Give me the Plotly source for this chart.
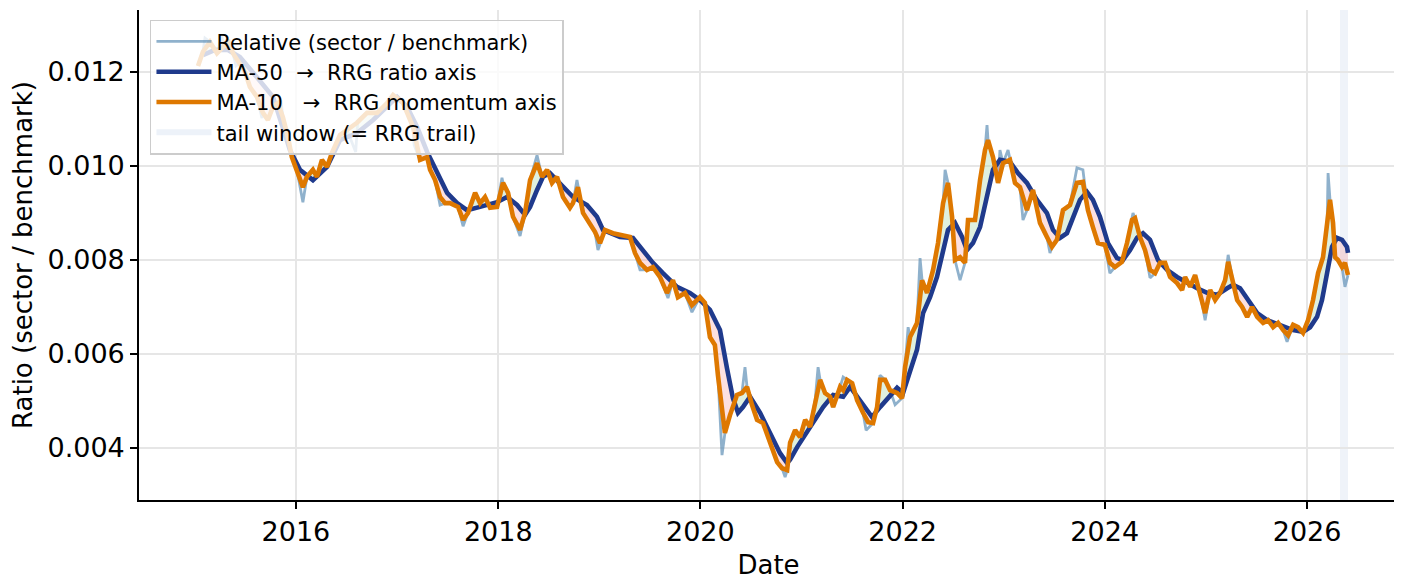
import numpy as np
import pandas as pd
import plotly.graph_objects as go

# ---------------- data ----------------
# Relative (sector / benchmark) : decimal year, value
rel_years = [2015.031, 2015.080, 2015.100, 2015.149, 2015.219, 2015.268, 2015.278, 2015.327, 2015.377, 2015.407,
             2015.446, 2015.496, 2015.545, 2015.614, 2015.664, 2015.674, 2015.723, 2015.773, 2015.822, 2015.852,
             2015.871, 2015.921, 2015.960, 2016.010, 2016.069, 2016.109, 2016.168, 2016.208, 2016.257, 2016.307,
             2016.356, 2016.435, 2016.504, 2016.590, 2016.610, 2016.702, 2016.801, 2016.900, 2016.959, 2017.058,
             2017.157, 2017.167, 2017.226, 2017.296, 2017.325, 2017.375, 2017.424, 2017.474, 2017.523, 2017.573,
             2017.602, 2017.652, 2017.701, 2017.771, 2017.820, 2017.869, 2017.919, 2017.988, 2018.037, 2018.047,
             2018.097, 2018.146, 2018.216, 2018.265, 2018.315, 2018.384, 2018.433, 2018.483, 2018.532, 2018.582,
             2018.641, 2018.710, 2018.740, 2018.779, 2018.839, 2018.908, 2018.957, 2018.987, 2019.056, 2019.135,
             2019.234, 2019.304, 2019.353, 2019.403, 2019.472, 2019.531, 2019.600, 2019.680, 2019.729, 2019.778,
             2019.848, 2019.917, 2019.996, 2020.045, 2020.095, 2020.144, 2020.174, 2020.214, 2020.243, 2020.293,
             2020.362, 2020.411, 2020.441, 2020.461, 2020.510, 2020.560, 2020.619, 2020.688, 2020.758, 2020.807,
             2020.837, 2020.857, 2020.886, 2020.936, 2020.985, 2021.035, 2021.084, 2021.134, 2021.163, 2021.183,
             2021.232, 2021.282, 2021.312, 2021.381, 2021.411, 2021.450, 2021.500, 2021.549, 2021.608, 2021.638,
             2021.707, 2021.747, 2021.776, 2021.826, 2021.875, 2021.925, 2021.994, 2022.024, 2022.054, 2022.073,
             2022.142, 2022.172, 2022.192, 2022.241, 2022.301, 2022.350, 2022.400, 2022.420, 2022.449, 2022.489,
             2022.518, 2022.568, 2022.617, 2022.647, 2022.716, 2022.766, 2022.815, 2022.835, 2022.845, 2022.894,
             2022.944, 2022.963, 2022.993, 2023.043, 2023.062, 2023.112, 2023.161, 2023.191, 2023.230, 2023.290,
             2023.359, 2023.428, 2023.458, 2023.478, 2023.527, 2023.587, 2023.656, 2023.725, 2023.784, 2023.834,
             2023.883, 2023.933, 2024.002, 2024.051, 2024.101, 2024.170, 2024.220, 2024.279, 2024.299, 2024.348,
             2024.398, 2024.447, 2024.497, 2024.546, 2024.596, 2024.645, 2024.714, 2024.764, 2024.793, 2024.843,
             2024.892, 2024.942, 2024.991, 2025.041, 2025.090, 2025.139, 2025.189, 2025.219, 2025.258, 2025.308,
             2025.357, 2025.407, 2025.456, 2025.506, 2025.565, 2025.614, 2025.664, 2025.713, 2025.763, 2025.802,
             2025.862, 2025.911, 2025.960, 2026.010, 2026.059, 2026.109, 2026.158, 2026.198, 2026.208, 2026.227,
             2026.257, 2026.277, 2026.306, 2026.346, 2026.375, 2026.405]
rel_vals = [0.01213, 0.01243, 0.01272, 0.01264, 0.01240, 0.01277, 0.01253, 0.01268, 0.01240, 0.01213,
            0.01219, 0.01200, 0.01168, 0.01147, 0.01102, 0.01113, 0.01098, 0.01126, 0.01134, 0.01140,
            0.01104, 0.01062, 0.01019, 0.00992, 0.00923, 0.00977, 0.00992, 0.00977, 0.01013, 0.00998,
            0.01028, 0.01066, 0.01077, 0.01030, 0.01092, 0.01113, 0.01113, 0.01134, 0.01151, 0.01134,
            0.01083, 0.01045, 0.01013, 0.01019, 0.00992, 0.00970, 0.00917, 0.00921, 0.00921, 0.00917,
            0.00913, 0.00872, 0.00900, 0.00943, 0.00921, 0.00934, 0.00911, 0.00913, 0.00975, 0.00964,
            0.00943, 0.00892, 0.00851, 0.00900, 0.00970, 0.01023, 0.00977, 0.00992, 0.00964, 0.00977,
            0.00934, 0.00911, 0.00921, 0.00970, 0.00900, 0.00875, 0.00860, 0.00821, 0.00864, 0.00857,
            0.00853, 0.00849, 0.00815, 0.00779, 0.00779, 0.00785, 0.00764, 0.00719, 0.00757, 0.00721,
            0.00730, 0.00689, 0.00721, 0.00709, 0.00636, 0.00619, 0.00555, 0.00385, 0.00432, 0.00470,
            0.00513, 0.00517, 0.00572, 0.00530, 0.00492, 0.00460, 0.00453, 0.00411, 0.00370, 0.00357,
            0.00338, 0.00353, 0.00411, 0.00438, 0.00423, 0.00460, 0.00445, 0.00502, 0.00572, 0.00545,
            0.00517, 0.00509, 0.00487, 0.00530, 0.00551, 0.00545, 0.00538, 0.00502, 0.00475, 0.00438,
            0.00453, 0.00487, 0.00555, 0.00545, 0.00523, 0.00492, 0.00506, 0.00572, 0.00657, 0.00636,
            0.00666, 0.00804, 0.00757, 0.00730, 0.00779, 0.00836, 0.00921, 0.00992, 0.00964, 0.00892,
            0.00800, 0.00757, 0.00794, 0.00885, 0.00885, 0.00970, 0.01034, 0.01087, 0.01055, 0.01019,
            0.00964, 0.01034, 0.01006, 0.01034, 0.01013, 0.00964, 0.00955, 0.00885, 0.00906, 0.00949,
            0.00879, 0.00849, 0.00815, 0.00828, 0.00843, 0.00906, 0.00917, 0.00996, 0.00992, 0.00906,
            0.00870, 0.00836, 0.00832, 0.00772, 0.00785, 0.00796, 0.00836, 0.00900, 0.00889, 0.00849,
            0.00821, 0.00762, 0.00772, 0.00794, 0.00794, 0.00764, 0.00751, 0.00736, 0.00764, 0.00743,
            0.00768, 0.00730, 0.00672, 0.00736, 0.00715, 0.00730, 0.00757, 0.00811, 0.00764, 0.00715,
            0.00700, 0.00679, 0.00700, 0.00679, 0.00666, 0.00672, 0.00657, 0.00666, 0.00651, 0.00626,
            0.00662, 0.00657, 0.00645, 0.00672, 0.00715, 0.00772, 0.00806, 0.00870, 0.00985, 0.00928,
            0.00879, 0.00806, 0.00800, 0.00785, 0.00743, 0.00768]

# MA-10 (RRG momentum axis)
ma10_years = [2015.031, 2015.080, 2015.149, 2015.219, 2015.278, 2015.327, 2015.377, 2015.446, 2015.496, 2015.545,
              2015.614, 2015.674, 2015.723, 2015.773, 2015.822, 2015.871, 2015.921, 2015.960, 2016.010, 2016.069,
              2016.109, 2016.168, 2016.208, 2016.257, 2016.307, 2016.356, 2016.435, 2016.504, 2016.603, 2016.702,
              2016.801, 2016.900, 2016.959, 2017.058, 2017.157, 2017.226, 2017.296, 2017.325, 2017.375, 2017.424,
              2017.474, 2017.523, 2017.573, 2017.602, 2017.652, 2017.701, 2017.771, 2017.820, 2017.869, 2017.919,
              2017.988, 2018.047, 2018.097, 2018.146, 2018.216, 2018.265, 2018.315, 2018.384, 2018.433, 2018.483,
              2018.532, 2018.582, 2018.641, 2018.710, 2018.740, 2018.789, 2018.839, 2018.908, 2018.957, 2019.007,
              2019.056, 2019.135, 2019.234, 2019.304, 2019.353, 2019.403, 2019.472, 2019.531, 2019.600, 2019.670,
              2019.729, 2019.778, 2019.848, 2019.917, 2019.996, 2020.045, 2020.095, 2020.144, 2020.174, 2020.214,
              2020.243, 2020.293, 2020.362, 2020.411, 2020.461, 2020.510, 2020.560, 2020.619, 2020.688, 2020.758,
              2020.807, 2020.857, 2020.886, 2020.936, 2020.985, 2021.035, 2021.084, 2021.134, 2021.183, 2021.232,
              2021.282, 2021.312, 2021.381, 2021.411, 2021.450, 2021.500, 2021.549, 2021.608, 2021.658, 2021.707,
              2021.747, 2021.776, 2021.826, 2021.875, 2021.945, 2021.994, 2022.024, 2022.073, 2022.142, 2022.192,
              2022.241, 2022.301, 2022.350, 2022.400, 2022.449, 2022.489, 2022.518, 2022.568, 2022.617, 2022.647,
              2022.716, 2022.766, 2022.815, 2022.845, 2022.894, 2022.944, 2022.993, 2023.062, 2023.112, 2023.161,
              2023.230, 2023.290, 2023.359, 2023.428, 2023.478, 2023.527, 2023.587, 2023.656, 2023.725, 2023.784,
              2023.834, 2023.883, 2023.933, 2024.002, 2024.051, 2024.101, 2024.170, 2024.220, 2024.269, 2024.299,
              2024.348, 2024.398, 2024.447, 2024.497, 2024.546, 2024.596, 2024.645, 2024.714, 2024.764, 2024.793,
              2024.843, 2024.892, 2024.942, 2024.991, 2025.041, 2025.090, 2025.139, 2025.189, 2025.219, 2025.258,
              2025.308, 2025.357, 2025.407, 2025.456, 2025.506, 2025.565, 2025.614, 2025.664, 2025.713, 2025.763,
              2025.812, 2025.862, 2025.911, 2025.960, 2026.010, 2026.059, 2026.109, 2026.158, 2026.198, 2026.227,
              2026.257, 2026.277, 2026.306, 2026.346, 2026.375, 2026.405]
ma10_vals = [0.01213, 0.01243, 0.01264, 0.01240, 0.01253, 0.01268, 0.01240, 0.01219, 0.01200, 0.01168,
             0.01147, 0.01113, 0.01098, 0.01126, 0.01134, 0.01104, 0.01062, 0.01019, 0.00992, 0.00955,
             0.00977, 0.00992, 0.00977, 0.01013, 0.00998, 0.01028, 0.01066, 0.01077, 0.01092, 0.01113,
             0.01113, 0.01134, 0.01151, 0.01134, 0.01083, 0.01013, 0.01019, 0.00992, 0.00970, 0.00934,
             0.00921, 0.00921, 0.00917, 0.00913, 0.00885, 0.00900, 0.00943, 0.00921, 0.00934, 0.00911,
             0.00913, 0.00964, 0.00943, 0.00892, 0.00864, 0.00900, 0.00970, 0.01006, 0.00977, 0.00992,
             0.00964, 0.00977, 0.00934, 0.00911, 0.00921, 0.00955, 0.00900, 0.00875, 0.00860, 0.00836,
             0.00864, 0.00857, 0.00853, 0.00849, 0.00815, 0.00794, 0.00779, 0.00785, 0.00764, 0.00730,
             0.00757, 0.00721, 0.00730, 0.00704, 0.00721, 0.00709, 0.00636, 0.00619, 0.00555, 0.00470,
             0.00432, 0.00470, 0.00513, 0.00517, 0.00530, 0.00492, 0.00460, 0.00453, 0.00411, 0.00370,
             0.00357, 0.00353, 0.00411, 0.00438, 0.00423, 0.00460, 0.00445, 0.00502, 0.00545, 0.00517,
             0.00509, 0.00487, 0.00530, 0.00523, 0.00545, 0.00538, 0.00502, 0.00475, 0.00455, 0.00453,
             0.00487, 0.00545, 0.00545, 0.00523, 0.00517, 0.00506, 0.00572, 0.00636, 0.00666, 0.00757,
             0.00730, 0.00779, 0.00836, 0.00921, 0.00964, 0.00892, 0.00800, 0.00806, 0.00794, 0.00885,
             0.00885, 0.00970, 0.01034, 0.01055, 0.01019, 0.00964, 0.01006, 0.01013, 0.00964, 0.00955,
             0.00906, 0.00949, 0.00879, 0.00849, 0.00828, 0.00843, 0.00906, 0.00917, 0.00964, 0.00966,
             0.00906, 0.00870, 0.00836, 0.00832, 0.00794, 0.00785, 0.00796, 0.00836, 0.00885, 0.00889,
             0.00849, 0.00821, 0.00779, 0.00772, 0.00794, 0.00794, 0.00764, 0.00751, 0.00736, 0.00764,
             0.00743, 0.00768, 0.00730, 0.00687, 0.00736, 0.00715, 0.00730, 0.00757, 0.00796, 0.00764,
             0.00715, 0.00700, 0.00679, 0.00700, 0.00679, 0.00666, 0.00672, 0.00657, 0.00666, 0.00651,
             0.00640, 0.00662, 0.00657, 0.00645, 0.00672, 0.00715, 0.00772, 0.00806, 0.00870, 0.00928,
             0.00879, 0.00806, 0.00800, 0.00785, 0.00794, 0.00768]

# MA-50 (RRG ratio axis)
ma50_years = [2015.080, 2015.199, 2015.327, 2015.446, 2015.614, 2015.773, 2015.941, 2016.040, 2016.168, 2016.307,
              2016.435, 2016.603, 2016.762, 2016.900, 2016.999, 2017.098, 2017.197, 2017.296, 2017.395, 2017.494,
              2017.593, 2017.691, 2017.820, 2017.988, 2018.087, 2018.186, 2018.265, 2018.315, 2018.384, 2018.443,
              2018.512, 2018.611, 2018.740, 2018.878, 2018.977, 2019.037, 2019.205, 2019.333, 2019.432, 2019.531,
              2019.630, 2019.769, 2019.897, 2019.996, 2020.095, 2020.194, 2020.263, 2020.322, 2020.372, 2020.421,
              2020.491, 2020.590, 2020.688, 2020.787, 2020.857, 2020.886, 2020.956, 2021.084, 2021.213, 2021.312,
              2021.411, 2021.480, 2021.579, 2021.697, 2021.776, 2021.875, 2021.945, 2022.004, 2022.073, 2022.142,
              2022.202, 2022.271, 2022.340, 2022.400, 2022.449, 2022.518, 2022.588, 2022.637, 2022.696, 2022.766,
              2022.835, 2022.894, 2022.963, 2023.062, 2023.141, 2023.230, 2023.329, 2023.428, 2023.488, 2023.557,
              2023.626, 2023.686, 2023.755, 2023.824, 2023.883, 2023.953, 2024.032, 2024.121, 2024.180, 2024.249,
              2024.319, 2024.378, 2024.447, 2024.526, 2024.615, 2024.714, 2024.813, 2024.912, 2025.011, 2025.110,
              2025.209, 2025.268, 2025.337, 2025.416, 2025.506, 2025.605, 2025.733, 2025.862, 2025.960, 2026.030,
              2026.099, 2026.148, 2026.198, 2026.247, 2026.297, 2026.346, 2026.395, 2026.405]
ma50_vals = [0.01236, 0.01247, 0.01247, 0.01232, 0.01189, 0.01147, 0.01034, 0.00992, 0.00970, 0.00998,
             0.01055, 0.01070, 0.01098, 0.01126, 0.01147, 0.01126, 0.01083, 0.01030, 0.00985, 0.00943,
             0.00921, 0.00906, 0.00913, 0.00923, 0.00934, 0.00917, 0.00896, 0.00913, 0.00949, 0.00977,
             0.00985, 0.00964, 0.00934, 0.00917, 0.00892, 0.00864, 0.00849, 0.00847, 0.00821, 0.00794,
             0.00772, 0.00743, 0.00730, 0.00715, 0.00694, 0.00651, 0.00570, 0.00506, 0.00475, 0.00487,
             0.00509, 0.00475, 0.00432, 0.00389, 0.00368, 0.00375, 0.00402, 0.00445, 0.00487, 0.00513,
             0.00509, 0.00530, 0.00502, 0.00466, 0.00487, 0.00513, 0.00528, 0.00517, 0.00560, 0.00609,
             0.00687, 0.00721, 0.00764, 0.00821, 0.00864, 0.00879, 0.00849, 0.00821, 0.00836, 0.00870,
             0.00934, 0.00992, 0.01013, 0.01009, 0.00985, 0.00964, 0.00928, 0.00900, 0.00864, 0.00847,
             0.00857, 0.00892, 0.00928, 0.00945, 0.00928, 0.00892, 0.00836, 0.00804, 0.00800, 0.00821,
             0.00847, 0.00857, 0.00843, 0.00800, 0.00779, 0.00764, 0.00751, 0.00740, 0.00730, 0.00726,
             0.00740, 0.00747, 0.00740, 0.00715, 0.00687, 0.00672, 0.00662, 0.00651, 0.00647, 0.00657,
             0.00679, 0.00715, 0.00772, 0.00828, 0.00847, 0.00843, 0.00828, 0.00815]

# tail window (= RRG trail) in decimal years
tail_window = [2026.326, 2026.405]

# axis ticks
x_tick_years = [2016, 2018, 2020, 2022, 2024, 2026]
y_tick_vals = [0.004, 0.006, 0.008, 0.010, 0.012]
x_range_years = [2014.447, 2026.900]
y_range = [0.002894, 0.013319]


def yr_to_date(y):
    yi = int(np.floor(y))
    start = pd.Timestamp(yi, 1, 1)
    end = pd.Timestamp(yi + 1, 1, 1)
    return start + (end - start) * (y - yi)


def to_dates(years):
    return [yr_to_date(y) for y in years]


# ---------------- figure ----------------
FONT = "DejaVu Sans"
fig = go.Figure()

fig.add_trace(go.Scatter(
    x=to_dates(rel_years), y=rel_vals, mode="lines",
    line=dict(color="rgba(90,140,180,0.68)", width=2.8),
    name="Relative (sector / benchmark)"))

# shaded area between MA-10 and MA-50 (green when MA-10 above, pink when below)
o_t = np.array(ma10_years)
o_v = np.array(ma10_vals)
b_t = np.array(ma50_years)
b_v = np.array(ma50_vals)
lo, hi = max(o_t[0], b_t[0]), min(o_t[-1], b_t[-1])
grid = np.unique(np.concatenate([o_t, b_t]))
grid = grid[(grid >= lo) & (grid <= hi)]
oi = np.interp(grid, o_t, o_v)
bi = np.interp(grid, b_t, b_v)
gd = to_dates(grid)
for upper, lower, col in [(np.maximum(oi, bi), bi, "rgba(170,215,170,0.38)"),
                          (bi, np.minimum(oi, bi), "rgba(245,160,160,0.33)")]:
    fig.add_trace(go.Scatter(x=gd, y=lower, mode="lines", line=dict(width=0),
                             showlegend=False, hoverinfo="skip"))
    fig.add_trace(go.Scatter(x=gd, y=upper, mode="lines", line=dict(width=0),
                             fill="tonexty", fillcolor=col, showlegend=False, hoverinfo="skip"))

fig.add_trace(go.Scatter(
    x=to_dates(ma50_years), y=ma50_vals, mode="lines",
    line=dict(color="#1f3a8c", width=4.6),
    name="MA-50  \u2192  RRG ratio axis"))

fig.add_trace(go.Scatter(
    x=to_dates(ma10_years), y=ma10_vals, mode="lines",
    line=dict(color="#de7800", width=4.6),
    name="MA-10   \u2192  RRG momentum axis"))

# legend entry for tail window
fig.add_trace(go.Scatter(
    x=[None], y=[None], mode="none", fill="toself",
    fillcolor="#edf2f9", name="tail window (= RRG trail)"))

fig.add_vrect(x0=yr_to_date(tail_window[0]), x1=yr_to_date(tail_window[1]),
              fillcolor="#c9d8ec", opacity=0.3, line_width=0, layer="below")

# the page body adds an 8px margin, so the figure is sized/offset to compensate
fig.update_layout(
    width=1394, height=572,
    margin=dict(l=131, r=4, t=2, b=80, autoexpand=False),
    paper_bgcolor="white", plot_bgcolor="white",
    font=dict(family=FONT, size=26, color="black"),
    showlegend=True,
    legend=dict(x=0.0087, y=0.98, xanchor="left", yanchor="top",
                bgcolor="rgba(255,255,255,0.8)", bordercolor="#cccccc", borderwidth=1.5,
                font=dict(family=FONT, size=21, color="black"),
                itemwidth=55,
                traceorder="normal"),
    xaxis=dict(
        type="date", automargin=False,
        range=[yr_to_date(x_range_years[0]), yr_to_date(x_range_years[1])],
        tickvals=[pd.Timestamp(y, 1, 1) for y in x_tick_years],
        ticktext=[str(y) for y in x_tick_years],
        showline=True, linecolor="black", linewidth=1.6,
        ticks="outside", ticklen=7, tickwidth=1.5, tickcolor="black",
        showgrid=True, gridcolor="#e6e6e6", gridwidth=1.5,
        zeroline=False,
        tickfont=dict(size=27),
        title=dict(text="Date", font=dict(size=26), standoff=12),
    ),
    yaxis=dict(
        automargin=False,
        range=y_range,
        tickvals=y_tick_vals,
        ticktext=[f"{v:.3f}" for v in y_tick_vals],
        showline=True, linecolor="black", linewidth=1.6,
        ticks="outside", ticklen=7, tickwidth=1.5, tickcolor="black",
        showgrid=True, gridcolor="#e6e6e6", gridwidth=1.5,
        zeroline=False,
        tickfont=dict(size=27),
        title=dict(text="Ratio (sector / benchmark)", font=dict(size=26), standoff=8),
    ),
)

fig.write_html("out.html")
